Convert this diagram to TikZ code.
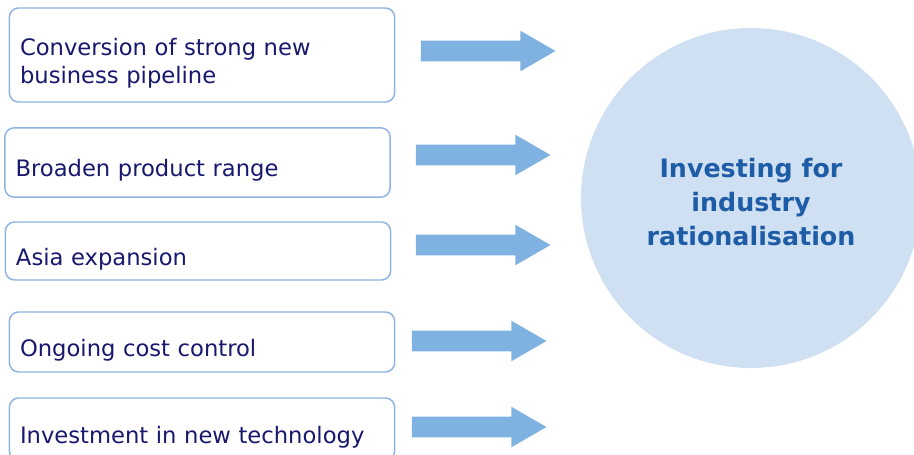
\documentclass[tikz,border=0pt]{standalone}
\usepackage{fontspec}
\setmainfont{DejaVu Sans}
\usepackage{tikz}
\usetikzlibrary{positioning,shapes.arrows}

\definecolor{boxline}{RGB}{141,180,226}
\definecolor{boxtext}{RGB}{24,24,110}
\definecolor{arrowfill}{RGB}{127,178,224}
\definecolor{hubfill}{RGB}{206,224,241}
\definecolor{hubtext}{RGB}{30,92,166}

\tikzset{
  driver/.style={draw=boxline, line width=1.1pt, rounded corners=7pt, fill=white,
    minimum width=289pt, inner sep=0pt},
  caption/.style={text width=273pt, align=left, text=boxtext, yshift=-6pt,
    font=\fontsize{17}{21}\selectfont},
  push/.style={single arrow, fill=arrowfill, draw=none, inner sep=7.5pt,
    minimum height=101pt, single arrow head extend=7.5pt,
    single arrow tip angle=60, single arrow head indent=0pt, anchor=tip}
}

\begin{document}
\begin{tikzpicture}[x=0.75pt,y=0.75pt,yscale=-1,xscale=1]
\useasboundingbox (0,0) rectangle (914,454);

%Shape: Circle [id:hub]
\node (hub) [circle, fill=hubfill, minimum size=255pt, inner sep=0pt,
  label={[yshift=-3pt, text=hubtext, align=center,
    font=\bfseries\fontsize{19}{25.5}\selectfont]center:Investing for\\industry\\rationalisation}]
  at (751,198) {};

%Rounded Boxes
\node (pipeline) [driver, minimum height=70.5pt,
  label={[caption]center:Conversion of strong new\\business pipeline}] at (202,55) {};
\node (range) [driver, minimum height=52pt,
  label={[caption]center:Broaden product range}] at (197.5,162.5) {};
\node (asia) [driver, minimum height=43.5pt,
  label={[caption]center:Asia expansion}] at (198,251) {};
\node (cost) [driver, minimum height=45pt,
  label={[caption]center:Ongoing cost control}] at (202,342) {};
\node (tech) [driver, minimum height=46.5pt,
  label={[caption]center:Investment in new technology}] at (202,429) {};

%Shape: Right Arrows
\node (ar1) [push] at (556,51) {};
\node (ar2) [push] at (551,155) {};
\node (ar3) [push] at (551,245) {};
\node (ar4) [push] at (547,341) {};
\node (ar5) [push] at (547,427) {};

\end{tikzpicture}
\end{document}
